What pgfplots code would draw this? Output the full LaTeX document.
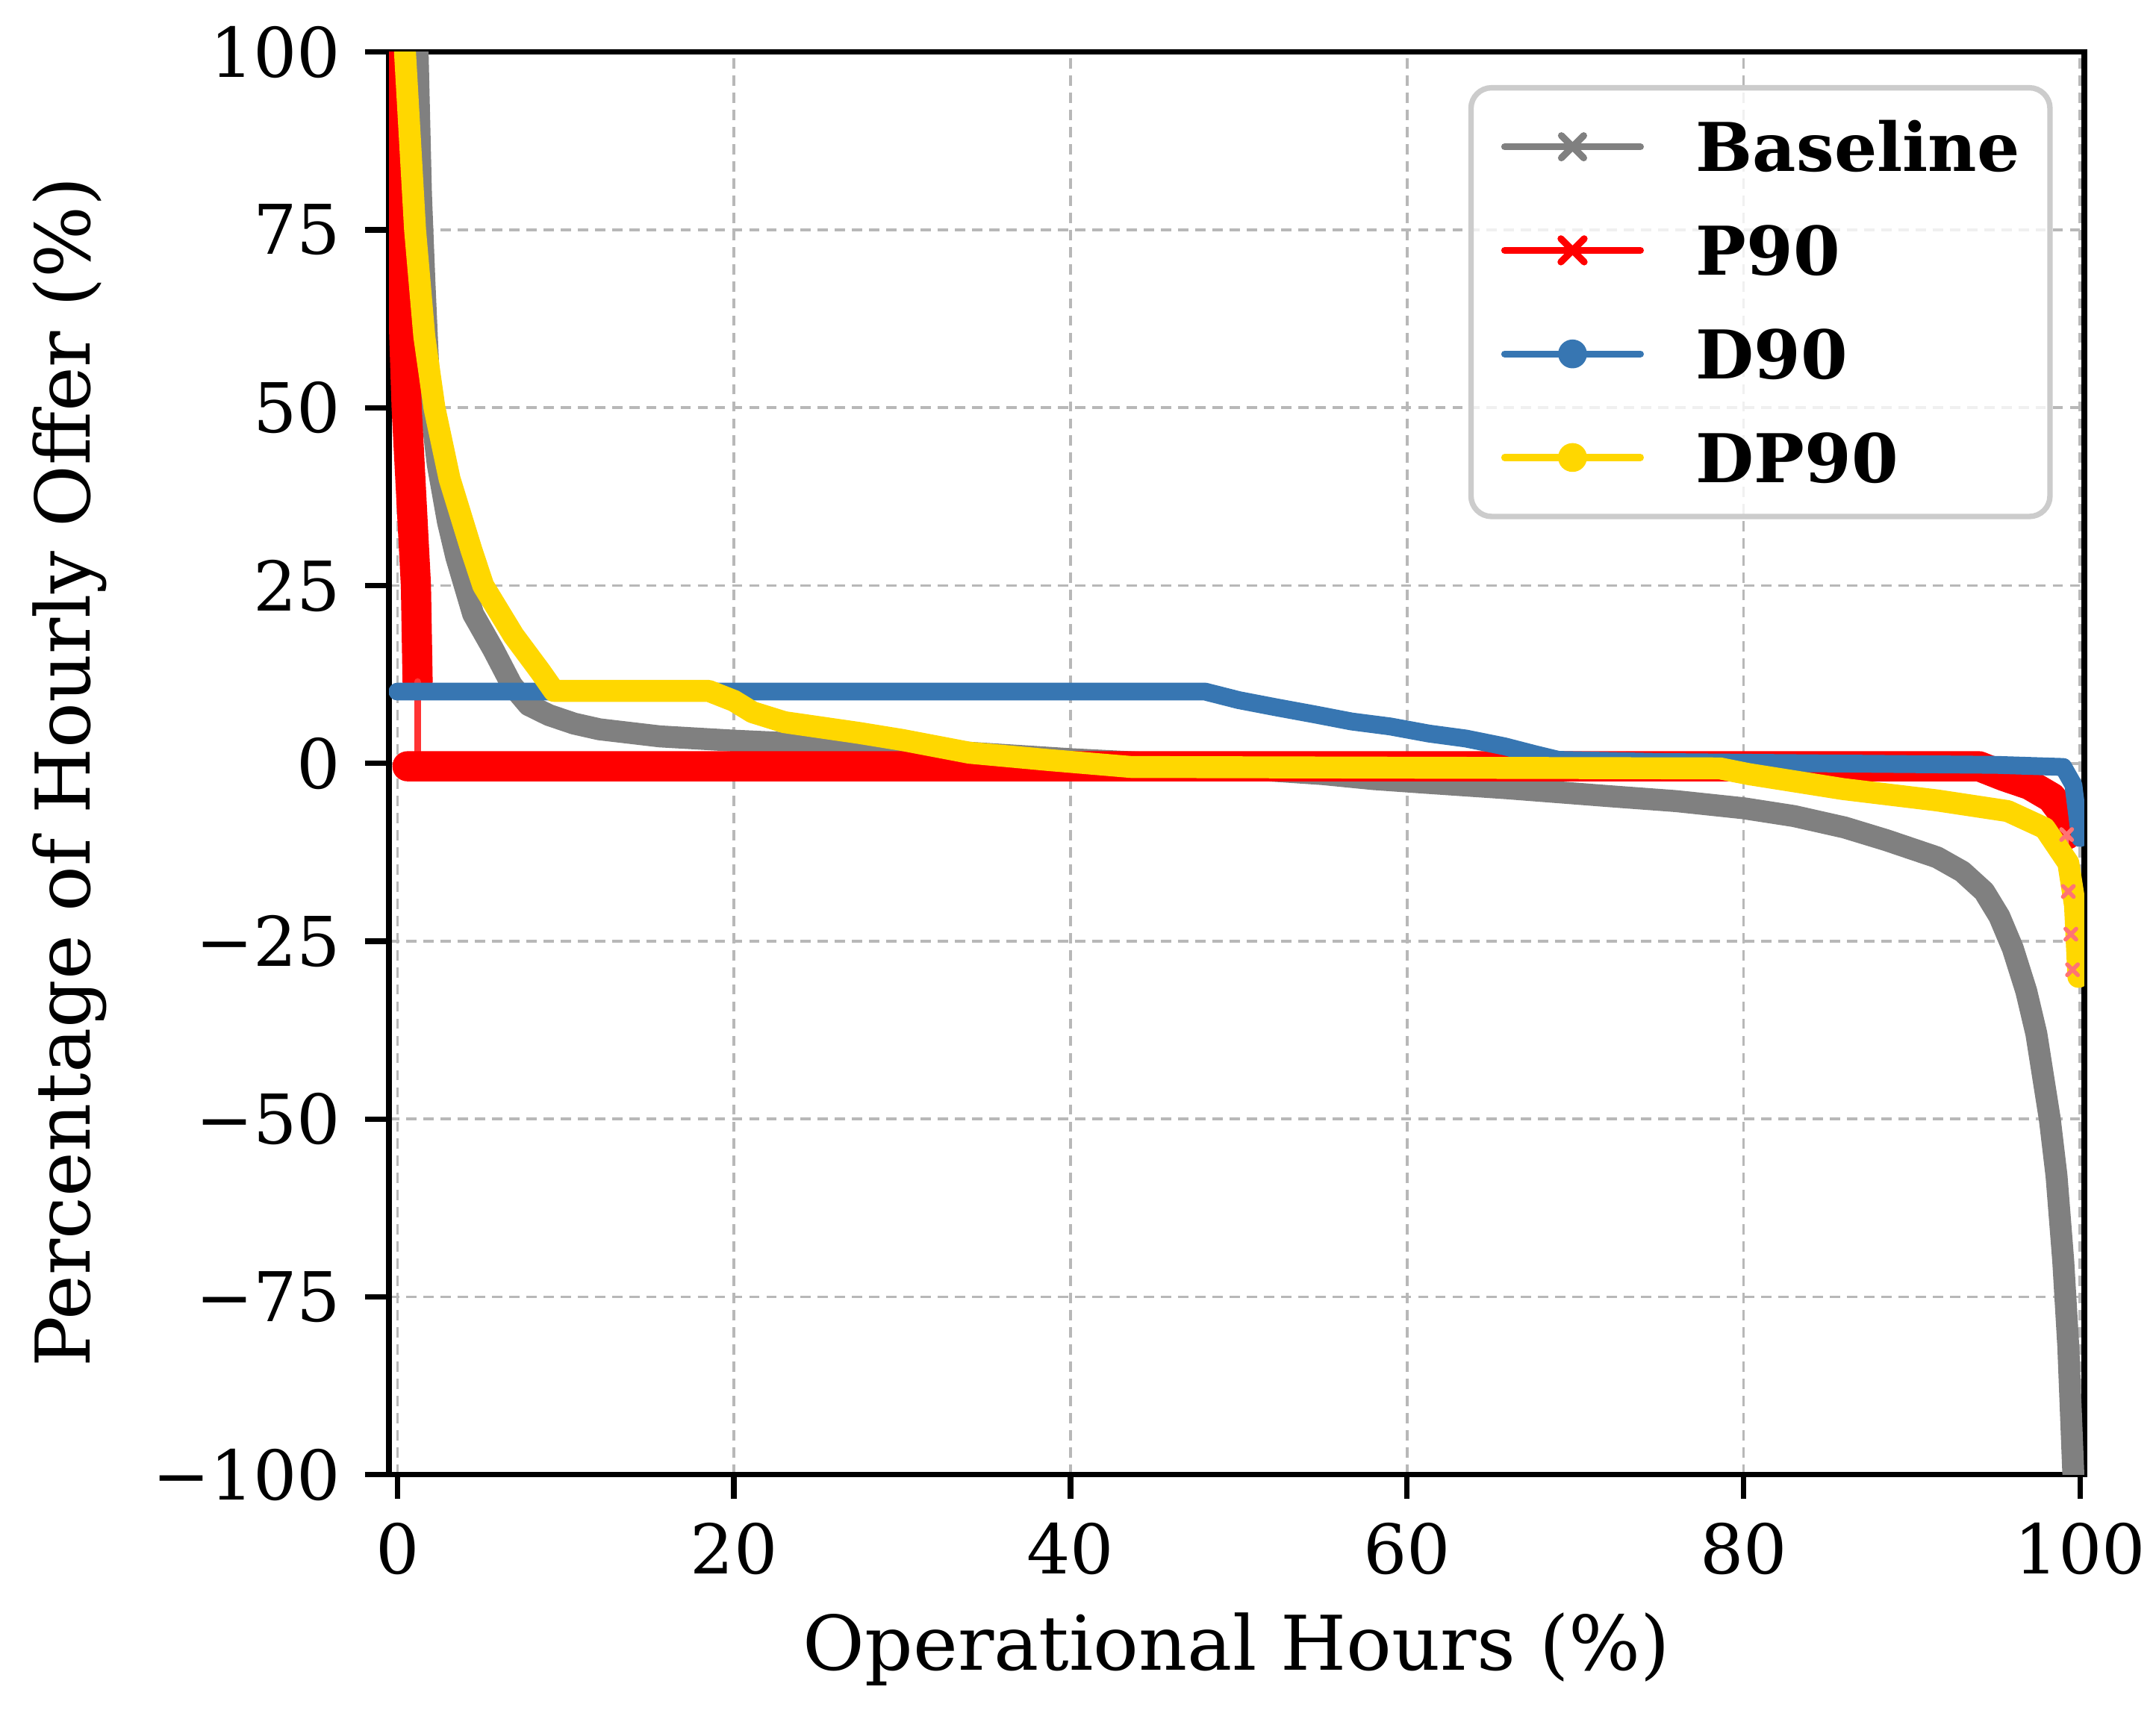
\documentclass[border=0pt]{standalone}
\usepackage{fontspec}
\setmainfont{DejaVu Serif}
\usepackage{pgfplots}
\pgfplotsset{compat=1.18}
\definecolor{cbase}{RGB}{128,128,128}
\definecolor{cred}{RGB}{255,0,0}
\definecolor{cblue}{RGB}{55,118,178}
\definecolor{cgold}{RGB}{255,215,0}
\begin{document}
\begin{tikzpicture}
\begin{axis}[
  name=ax,
  scale only axis,
  width=247.1pt, height=207.4pt,
  xmin=-0.5, xmax=100.25, ymin=-100, ymax=100,
  xtick={0,20,40,60,80,100},
  xticklabels={0,20,40,60,80,100},
  ytick={-100,-75,-50,-25,0,25,50,75,100},
  yticklabels={−100,−75,−50,−25,0,25,50,75,100},
  /pgf/number format/assume math mode=true,
  tick align=outside,
  xtick pos=bottom, ytick pos=left,
  major tick length=3.5pt,
  tick style={black, line width=0.8pt},
  axis line style={black, line width=0.8pt},
  grid=major,
  grid style={black!28, line width=0.4pt, dash pattern=on 1.5pt off 1pt},
  ticklabel style={font=\fontsize{10}{12}\selectfont},
  xlabel={Operational Hours (\%)},
  ylabel={Percentage of Hourly Offer (\%)},
  label style={font=\fontsize{11}{13}\selectfont},
  xlabel style={at={(axis description cs:0.5,-0.1374)}, anchor=base},
  ylabel style={at={(axis description cs:-0.1765,0.494)}, anchor=base},
  legend cell align=left,
  legend image code/.code={\draw[mark repeat=2,mark phase=2,#1] plot coordinates {(0pt,0pt) (9.9pt,0pt) (19.8pt,0pt)};},
  legend style={at={(1,1)}, anchor=north east, xshift=-4.6pt, yshift=-4.8pt,
    draw=black!20, line width=0.8pt, rounded corners=3pt,
    fill=white, fill opacity=0.8, text opacity=1,
    font=\fontsize{9.8}{12}\selectfont\bfseries,
    inner xsep=4.4pt, inner ysep=5pt, row sep=7.9pt, column sep=7.6pt,
    nodes={inner sep=0pt, text height=7.2pt, text depth=0pt}},
  legend image post style={fill opacity=1},
  every axis plot/.append style={line join=round, line cap=round},
]
% legend entries
\addlegendimage{color=cbase, line width=1pt, mark=x, mark size=2.3pt, mark options={line width=1pt}}
\addlegendentry{Baseline}
\addlegendimage{color=cred, line width=1pt, mark=x, mark size=2.4pt, mark options={line width=1pt}}
\addlegendentry{P90}
\addlegendimage{color=cblue, line width=1pt, mark=*, mark size=1.6pt}
\addlegendentry{D90}
\addlegendimage{color=cgold, line width=1pt, mark=*, mark size=1.6pt}
\addlegendentry{DP90}

% Baseline
\addplot[forget plot, color=cbase, line width=3.2pt] coordinates {
(1.2,100) (1.4,80) (1.6,68) (1.9,52) (2.4,42) (3.0,34) (3.5,29) (4.5,21)
(5.7,16) (6.8,11) (7.8,8.2) (9,6.8) (10.5,5.6) (12,4.8) (15.6,3.8) (20,3.2)
(27.4,2.4) (34,1.5) (40,0.6) (45,0) (50,-0.7) (55,-1.5) (58,-2.2) (61,-2.7)
(66,-3.5) (72,-4.6) (76,-5.3) (80,-6.3) (83,-7.4) (86,-9) (88.5,-10.8)
(91.5,-13.2) (93,-15.2) (94.3,-18) (95.2,-21.5) (96,-26) (96.8,-32)
(97.4,-38) (97.8,-44) (98.2,-50) (98.6,-58) (99,-70) (99.3,-82) (99.6,-100)};

% P90
\addplot[forget plot, color=cred, line width=4.4pt] coordinates {
(0,100) (0.2,75) (0.55,50) (1.1,25) (1.2,11.5)};
\addplot[forget plot, color=cred!80, line width=1pt] coordinates {
(1.2,11.5) (1.2,0)};
\addplot[forget plot, color=cred, line width=4.4pt] coordinates {
(0.6,-0.4) (20,-0.4) (45,-0.4) (94,-0.4) (95.5,-1.8) (97,-3) (98.3,-4.8)
(99,-7) (99.2,-10)};
\addplot[forget plot, color=cred!55, line width=0.6pt, dashed, mark=x, mark size=1.1pt, mark options={solid}] coordinates {
(99.2,-10) (99.3,-18) (99.45,-24) (99.55,-29)};

% D90
\addplot[forget plot, color=cblue, line width=2.6pt] coordinates {
(0,10.1) (20,10.1) (48,10.1) (50,8.9) (52.2,7.9) (54.5,6.9) (56.7,5.9)
(59,5.2) (61.3,4.2) (63.5,3.5) (65.8,2.4) (67.6,1.3) (69,0.5) (75,0.2)
(85,0) (95,-0.2) (99,-0.5) (99.6,-3) (100,-10.5)};

% DP90
\addplot[forget plot, color=cgold, line width=3.2pt] coordinates {
(0.45,100) (1.05,75) (1.6,60) (2.2,50) (3.1,40) (4.4,30) (5.1,25) (6.9,18)
(8.5,12.9) (9.3,10.2) (18.5,10.2) (20,8.8) (21.1,7.2) (23,5.8) (27.4,4.3)
(30,3.3) (34,1.5) (38.6,0.5) (43.6,-0.5) (60,-0.6) (78.6,-0.7) (80.3,-1.5)
(85.9,-3.6) (91.5,-5.2) (95.7,-6.7) (97.9,-9.1) (99.3,-14) (99.7,-20) (99.9,-30)};
\end{axis}
\pgfresetboundingbox
\path[use as bounding box] ([xshift=-56.7pt,yshift=-35.15pt]ax.south west) rectangle ([xshift=10.45pt,yshift=7.6pt]ax.north east);
\end{tikzpicture}
\end{document}
